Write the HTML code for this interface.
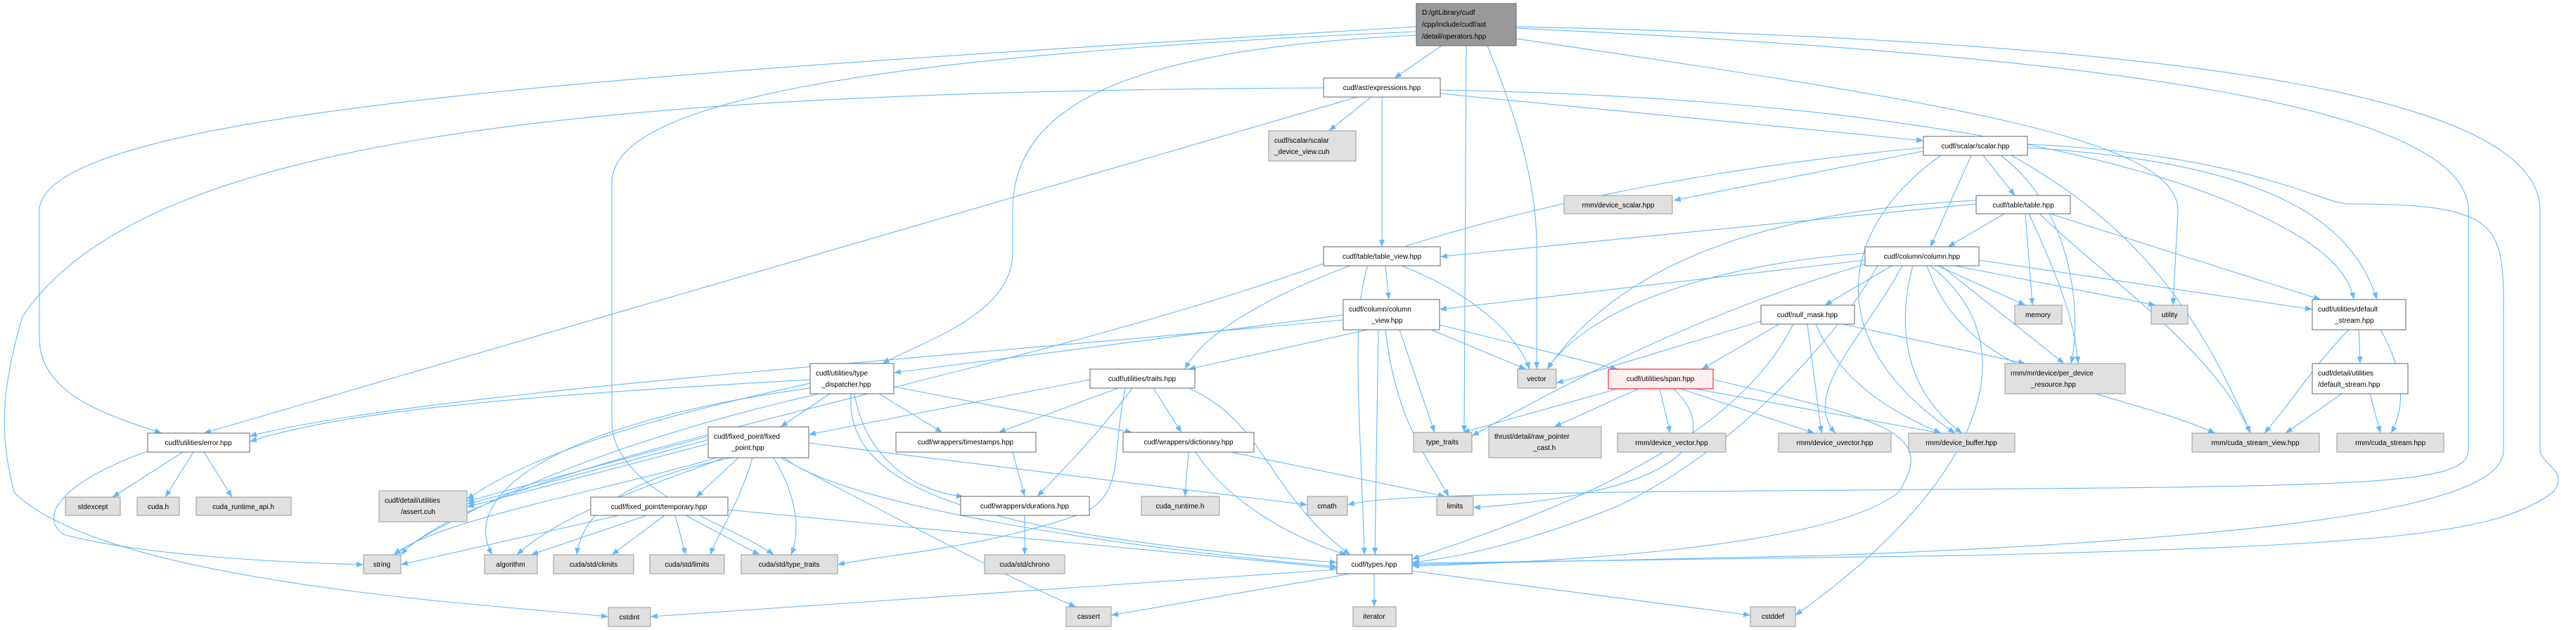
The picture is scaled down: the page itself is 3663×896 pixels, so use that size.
<!DOCTYPE html>
<html><head><meta charset="utf-8"><style>
html,body{margin:0;padding:0;background:#fff;}
svg{display:block;}
text{font-family:"Liberation Sans",sans-serif;font-size:10px;fill:#000;}
.e{fill:none;stroke:#63b8ff;stroke-width:1.1;marker-end:url(#a);}
.w{fill:#fff;stroke:#666;stroke-width:1;}
.g{fill:#e0e0e0;stroke:#999;stroke-width:1;}
</style></head><body>
<svg width="3663" height="896" viewBox="0 0 3663 896" xmlns="http://www.w3.org/2000/svg">
<defs><marker id="a" markerWidth="10" markerHeight="8" refX="10" refY="4" orient="auto" markerUnits="userSpaceOnUse"><path d="M0,0 L10,4 L0,8 z" fill="#63b8ff"/></marker></defs>
<g>
<path class="e" d="M2050,65 L1983,111"/>
<path class="e" d="M2014,38 C1000,100 56,150 56,300 L56,480 C56,560 150,590 230,616"/>
<path class="e" d="M2014,50 C1600,70 1440,150 1440,300 L1440,360 C1440,450 1300,490 1255,517"/>
<path class="e" d="M2014,45 C1200,80 870,150 870,260 L870,600 C870,700 1050,750 1100,789"/>
<path class="e" d="M2115,65 C2150,150 2185,250 2185,350 L2185,525"/>
<path class="e" d="M2085,65 L2082,615"/>
<path class="e" d="M2156,55 C2800,150 3097,200 3097,300 L3090,434"/>
<path class="e" d="M2156,40 C3000,80 3510,150 3510,300 L3510,640 C3510,700 3300,690 2300,700 C2000,705 1950,710 1916,718"/>
<path class="e" d="M2156,38 C3200,60 3612,150 3612,300 L3612,640 C3612,660 3655,670 3630,700 C3550,760 3400,775 2800,790 L2008,801"/>
<path class="e" d="M1950,138 L1890,186"/>
<path class="e" d="M1965,138 L1965,351"/>
<path class="e" d="M2048,133 L2735,200"/>
<path class="e" d="M2048,128 C2700,140 3050,230 3200,300 C3310,350 3340,390 3347,426"/>
<path class="e" d="M1930,138 L290,616"/>
<path class="e" d="M1882,125 C800,130 200,200 32,450 C0,560 0,620 20,700 C150,830 700,860 865,877"/>
<path class="e" d="M2735,215 L2380,285"/>
<path class="e" d="M2820,221 L2865,278"/>
<path class="e" d="M2803,221 L2745,351"/>
<path class="e" d="M2735,210 C2200,260 1750,400 1685,525"/>
<path class="e" d="M2883,205 C3200,220 3300,290 3340,290 C3560,290 3560,320 3560,450 L3560,640 C3560,700 3400,760 2600,790 L2008,803"/>
<path class="e" d="M2860,221 C3000,300 3110,400 3200,616"/>
<path class="e" d="M2845,221 C2950,300 2960,450 2945,517"/>
<path class="e" d="M2883,210 C3200,230 3340,300 3380,426"/>
<path class="e" d="M2760,221 C2620,320 2580,480 2780,616"/>
<path class="e" d="M2810,290 L2048,365"/>
<path class="e" d="M2850,304 L2770,351"/>
<path class="e" d="M2810,285 C2500,300 2300,380 2200,525"/>
<path class="e" d="M2880,304 L2890,434"/>
<path class="e" d="M2885,304 C2920,380 2950,450 2955,517"/>
<path class="e" d="M2900,304 C3000,400 3150,500 3200,616"/>
<path class="e" d="M2915,304 L3300,426"/>
<path class="e" d="M1970,378 L1975,426"/>
<path class="e" d="M1945,378 C1920,450 1935,600 1940,789"/>
<path class="e" d="M1993,378 C2100,420 2160,480 2175,525"/>
<path class="e" d="M1882,375 C1400,550 700,650 570,789"/>
<path class="e" d="M2652,370 L2047,440"/>
<path class="e" d="M2690,378 L2595,434"/>
<path class="e" d="M2755,378 L2880,434"/>
<path class="e" d="M2780,378 L3065,434"/>
<path class="e" d="M2814,370 L3288,440"/>
<path class="e" d="M2652,360 C2400,380 2250,450 2200,525"/>
<path class="e" d="M2670,378 C2600,500 2450,650 2300,720 C2200,760 2100,790 2008,800"/>
<path class="e" d="M2760,378 L2935,517"/>
<path class="e" d="M2720,378 C2700,450 2700,550 2790,616"/>
<path class="e" d="M2705,378 C2650,480 2560,560 2610,616"/>
<path class="e" d="M2740,378 C2800,550 3000,550 3150,616"/>
<path class="e" d="M2655,375 C2400,450 2200,560 2093,620"/>
<path class="e" d="M2745,378 C2900,500 2800,700 2553,875"/>
<path class="e" d="M1910,448 L1271,530"/>
<path class="e" d="M1945,469 L1690,525"/>
<path class="e" d="M1910,455 C1200,520 600,560 355,620"/>
<path class="e" d="M2047,462 L2300,525"/>
<path class="e" d="M2035,469 L2170,525"/>
<path class="e" d="M1960,469 L1955,789"/>
<path class="e" d="M1990,469 L2040,615"/>
<path class="e" d="M1970,469 C1985,600 2030,650 2060,706"/>
<path class="e" d="M2530,461 L2420,525"/>
<path class="e" d="M2510,455 L2213,545"/>
<path class="e" d="M2620,461 L2880,517"/>
<path class="e" d="M2582,461 C2620,550 2700,590 2760,616"/>
<path class="e" d="M2570,461 L2590,616"/>
<path class="e" d="M2550,461 C2480,600 2300,700 2008,795"/>
<path class="e" d="M1152,540 C800,560 500,580 355,628"/>
<path class="e" d="M1180,560 L1110,607"/>
<path class="e" d="M1250,560 L1340,615"/>
<path class="e" d="M1271,550 L1610,615"/>
<path class="e" d="M1215,560 C1230,650 1300,700 1370,706"/>
<path class="e" d="M1210,560 C1200,700 1400,760 1901,800"/>
<path class="e" d="M1152,545 C900,600 750,650 664,710"/>
<path class="e" d="M1165,560 C900,620 700,700 560,789"/>
<path class="e" d="M1152,552 C800,600 650,700 700,789"/>
<path class="e" d="M1550,540 L1150,618"/>
<path class="e" d="M1590,552 L1420,615"/>
<path class="e" d="M1640,552 L1680,615"/>
<path class="e" d="M1610,552 C1560,620 1500,680 1475,706"/>
<path class="e" d="M1690,552 C1800,600 1800,700 1920,789"/>
<path class="e" d="M1600,552 C1580,650 1600,700 1540,730 C1400,780 1250,790 1191,803"/>
<path class="e" d="M2300,553 L2080,615"/>
<path class="e" d="M2330,553 L2210,607"/>
<path class="e" d="M2360,553 L2375,616"/>
<path class="e" d="M2390,553 L2580,616"/>
<path class="e" d="M2410,553 L2760,616"/>
<path class="e" d="M2380,553 C2450,620 2400,700 2095,722"/>
<path class="e" d="M2436,540 C2700,600 2750,620 2700,700 C2600,780 2200,800 2008,805"/>
<path class="e" d="M3340,469 C3290,520 3260,570 3220,616"/>
<path class="e" d="M3354,469 L3356,517"/>
<path class="e" d="M3385,469 C3420,530 3420,580 3400,616"/>
<path class="e" d="M3330,560 L3250,616"/>
<path class="e" d="M3370,560 L3385,616"/>
<path class="e" d="M260,643 L160,707"/>
<path class="e" d="M275,643 L235,707"/>
<path class="e" d="M290,643 L330,707"/>
<path class="e" d="M215,640 C100,680 50,730 90,760 C200,790 400,800 517,803"/>
<path class="e" d="M1009,620 L664,713"/>
<path class="e" d="M1009,625 L664,717"/>
<path class="e" d="M1012,630 L664,721"/>
<path class="e" d="M1050,651 L990,707"/>
<path class="e" d="M1150,630 L1859,718"/>
<path class="e" d="M1115,651 C1200,720 1600,780 1901,806"/>
<path class="e" d="M1030,651 C900,700 800,730 735,789"/>
<path class="e" d="M1040,651 C900,680 830,720 820,789"/>
<path class="e" d="M1070,651 C1050,720 1020,760 1010,789"/>
<path class="e" d="M1100,651 C1130,700 1140,750 1125,789"/>
<path class="e" d="M1110,651 C1300,750 1450,830 1530,863"/>
<path class="e" d="M1020,651 C850,700 620,740 560,789"/>
<path class="e" d="M880,733 L570,803"/>
<path class="e" d="M920,733 L755,789"/>
<path class="e" d="M945,733 L870,789"/>
<path class="e" d="M960,733 L975,789"/>
<path class="e" d="M975,733 L1080,789"/>
<path class="e" d="M1035,725 L1901,808"/>
<path class="e" d="M1440,643 L1457,706"/>
<path class="e" d="M1690,643 L1685,706"/>
<path class="e" d="M1700,643 C1750,720 1850,770 1915,789"/>
<path class="e" d="M1750,643 L2055,706"/>
<path class="e" d="M1457,733 L1457,789"/>
<path class="e" d="M1901,810 L925,877"/>
<path class="e" d="M1920,816 L1580,875"/>
<path class="e" d="M1954,816 L1954,863"/>
<path class="e" d="M2008,812 L2489,875"/>
</g>
<g>
<rect x="2014" y="5" width="142" height="60" fill="#999" stroke="#666"/>
<text x="2022" y="21">D:/gitLibrary/cudf</text><text x="2022" y="38">/cpp/include/cudf/ast</text><text x="2022" y="55">/detail/operators.hpp</text>

<rect class="w" x="1882" y="111" width="166" height="27"/><text x="1965" y="128" text-anchor="middle">cudf/ast/expressions.hpp</text>
<rect class="g" x="1804" y="186" width="124" height="43"/><text x="1812" y="203">cudf/scalar/scalar</text><text x="1812" y="219">_device_view.cuh</text>
<rect class="w" x="2735" y="194" width="148" height="27"/><text x="2809" y="211" text-anchor="middle">cudf/scalar/scalar.hpp</text>
<rect class="g" x="2224" y="278" width="154" height="26"/><text x="2301" y="295" text-anchor="middle">rmm/device_scalar.hpp</text>
<rect class="w" x="2810" y="278" width="134" height="26"/><text x="2877" y="295" text-anchor="middle">cudf/table/table.hpp</text>
<rect class="w" x="1882" y="351" width="166" height="27"/><text x="1965" y="368" text-anchor="middle">cudf/table/table_view.hpp</text>
<rect class="w" x="2652" y="351" width="162" height="27"/><text x="2733" y="368" text-anchor="middle">cudf/column/column.hpp</text>
<rect class="w" x="1910" y="426" width="137" height="43"/><text x="1918" y="443">cudf/column/column</text><text x="1950" y="459">_view.hpp</text>
<rect class="w" x="2504" y="434" width="133" height="27"/><text x="2570" y="451" text-anchor="middle">cudf/null_mask.hpp</text>
<rect class="g" x="2865" y="434" width="67" height="27"/><text x="2898" y="451" text-anchor="middle">memory</text>
<rect class="g" x="3059" y="434" width="52" height="27"/><text x="3085" y="451" text-anchor="middle">utility</text>
<rect class="w" x="3288" y="426" width="133" height="43"/><text x="3296" y="443">cudf/utilities/default</text><text x="3320" y="459">_stream.hpp</text>
<rect class="w" x="1152" y="517" width="119" height="43"/><text x="1160" y="534">cudf/utilities/type</text><text x="1168" y="550">_dispatcher.hpp</text>
<rect class="w" x="1550" y="525" width="149" height="27"/><text x="1624" y="542" text-anchor="middle">cudf/utilities/traits.hpp</text>
<rect class="g" x="2158" y="525" width="55" height="27"/><text x="2185" y="542" text-anchor="middle">vector</text>
<rect x="2287" y="525" width="149" height="28" fill="#fff0f0" stroke="#ff0000"/><text x="2361" y="542" text-anchor="middle">cudf/utilities/span.hpp</text>
<rect class="g" x="2851" y="517" width="171" height="43"/><text x="2859" y="534">rmm/mr/device/per_device</text><text x="2888" y="550">_resource.hpp</text>
<rect class="w" x="3288" y="517" width="136" height="43"/><text x="3296" y="534">cudf/detail/utilities</text><text x="3296" y="550">/default_stream.hpp</text>
<rect class="w" x="210" y="616" width="145" height="27"/><text x="282" y="633" text-anchor="middle">cudf/utilities/error.hpp</text>
<rect class="w" x="1007" y="607" width="143" height="44"/><text x="1015" y="624">cudf/fixed_point/fixed</text><text x="1040" y="640">_point.hpp</text>
<rect class="w" x="1274" y="615" width="199" height="28"/><text x="1373" y="632" text-anchor="middle">cudf/wrappers/timestamps.hpp</text>
<rect class="w" x="1597" y="615" width="186" height="28"/><text x="1690" y="632" text-anchor="middle">cudf/wrappers/dictionary.hpp</text>
<rect class="g" x="2010" y="615" width="83" height="28"/><text x="2051" y="632" text-anchor="middle">type_traits</text>
<rect class="g" x="2117" y="607" width="160" height="44"/><text x="2125" y="624">thrust/detail/raw_pointer</text><text x="2180" y="640">_cast.h</text>
<rect class="g" x="2300" y="616" width="154" height="27"/><text x="2377" y="633" text-anchor="middle">rmm/device_vector.hpp</text>
<rect class="g" x="2529" y="616" width="160" height="27"/><text x="2609" y="633" text-anchor="middle">rmm/device_uvector.hpp</text>
<rect class="g" x="2714" y="616" width="151" height="27"/><text x="2789" y="633" text-anchor="middle">rmm/device_buffer.hpp</text>
<rect class="g" x="3117" y="616" width="181" height="27"/><text x="3207" y="633" text-anchor="middle">rmm/cuda_stream_view.hpp</text>
<rect class="g" x="3323" y="616" width="152" height="27"/><text x="3399" y="633" text-anchor="middle">rmm/cuda_stream.hpp</text>
<rect class="g" x="93" y="707" width="78" height="26"/><text x="132" y="724" text-anchor="middle">stdexcept</text>
<rect class="g" x="195" y="707" width="60" height="26"/><text x="225" y="724" text-anchor="middle">cuda.h</text>
<rect class="g" x="279" y="707" width="135" height="26"/><text x="346" y="724" text-anchor="middle">cuda_runtime_api.h</text>
<rect class="g" x="539" y="698" width="125" height="44"/><text x="547" y="715">cudf/detail/utilities</text><text x="570" y="731">/assert.cuh</text>
<rect class="w" x="840" y="707" width="195" height="26"/><text x="937" y="724" text-anchor="middle">cudf/fixed_point/temporary.hpp</text>
<rect class="w" x="1366" y="706" width="183" height="27"/><text x="1457" y="723" text-anchor="middle">cudf/wrappers/durations.hpp</text>
<rect class="g" x="1623" y="706" width="111" height="27"/><text x="1678" y="723" text-anchor="middle">cuda_runtime.h</text>
<rect class="g" x="1859" y="706" width="57" height="27"/><text x="1887" y="723" text-anchor="middle">cmath</text>
<rect class="g" x="2043" y="706" width="52" height="27"/><text x="2069" y="723" text-anchor="middle">limits</text>
<rect class="g" x="517" y="789" width="53" height="27"/><text x="543" y="806" text-anchor="middle">string</text>
<rect class="g" x="689" y="789" width="75" height="27"/><text x="726" y="806" text-anchor="middle">algorithm</text>
<rect class="g" x="787" y="789" width="114" height="27"/><text x="844" y="806" text-anchor="middle">cuda/std/climits</text>
<rect class="g" x="924" y="789" width="106" height="27"/><text x="977" y="806" text-anchor="middle">cuda/std/limits</text>
<rect class="g" x="1054" y="789" width="137" height="27"/><text x="1122" y="806" text-anchor="middle">cuda/std/type_traits</text>
<rect class="g" x="1400" y="789" width="114" height="27"/><text x="1457" y="806" text-anchor="middle">cuda/std/chrono</text>
<rect class="w" x="1901" y="789" width="107" height="27"/><text x="1954" y="806" text-anchor="middle">cudf/types.hpp</text>
<rect class="g" x="865" y="864" width="60" height="27"/><text x="895" y="881" text-anchor="middle">cstdint</text>
<rect class="g" x="1516" y="863" width="64" height="28"/><text x="1548" y="880" text-anchor="middle">cassert</text>
<rect class="g" x="1924" y="863" width="61" height="28"/><text x="1954" y="880" text-anchor="middle">iterator</text>
<rect class="g" x="2489" y="863" width="64" height="28"/><text x="2521" y="880" text-anchor="middle">cstddef</text>
</g>
</svg>
</body></html>
